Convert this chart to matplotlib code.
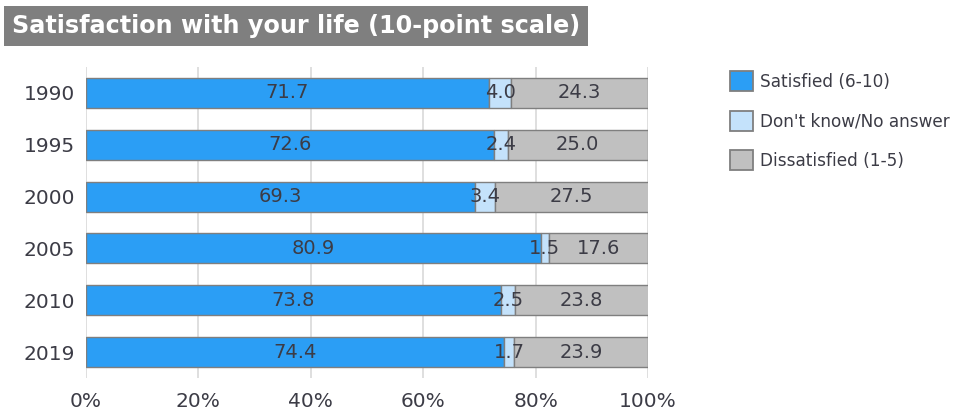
import matplotlib.pyplot as plt
from matplotlib.patches import Patch
import numpy as np

years = ['1990', '1995', '2000', '2005', '2010', '2019']
satisfied = [71.7, 72.6, 69.3, 80.9, 73.8, 74.4]
dont_know = [4.0, 2.4, 3.4, 1.5, 2.5, 1.7]
dissatisfied = [24.3, 25.0, 27.5, 17.6, 23.8, 23.9]
series_names = ['Satisfied (6-10)', "Don't know/No answer", 'Dissatisfied (1-5)']
colors = ['#2b9ef5', '#c4e2fb', '#c0c0c0']
edge = '#7f7f7f'
txt = '#3c3c46'

fig = plt.figure(figsize=(9.62, 4.2), dpi=100)
ax = fig.add_axes([86/962, 1-378/420, (648-86)/962, 311/420])

y = np.arange(len(years))
left = np.zeros(len(years))
for vals, c in zip([satisfied, dont_know, dissatisfied], colors):
    vals = np.array(vals)
    ax.barh(y, vals, left=left, height=0.58, color=c, edgecolor=edge, linewidth=1, zorder=3)
    for yi, l, v in zip(y, left, vals):
        ax.text(l + v/2, yi, f'{v:.1f}', ha='center', va='center', fontsize=14, color=txt, zorder=4)
    left += vals

ax.set_xlim(0, 100)
ax.set_ylim(len(years) - 0.5, -0.5)
ax.set_yticks(y)
ax.set_yticklabels(years, fontsize=14.5, color=txt)
ax.set_xticks([0, 20, 40, 60, 80, 100])
ax.set_xticklabels([f'{v}%' for v in range(0, 101, 20)], fontsize=14.5, color=txt)
ax.tick_params(length=0)
ax.tick_params(axis='x', pad=10)
ax.tick_params(axis='y', pad=8)
ax.grid(axis='x', color='#d9d9d9', linewidth=1.2, zorder=0)
for s in ax.spines.values():
    s.set_visible(False)

# title box
fig.text(12/962, 1-26/420, 'Satisfaction with your life (10-point scale)', fontsize=17.2,
         fontweight='bold', color='white', va='center', ha='left',
         bbox=dict(boxstyle='square,pad=0.35', facecolor='#7f7f7f', edgecolor='none'))

handles = [Patch(facecolor=c, edgecolor=edge, linewidth=1.3) for c in colors]
fig.legend(handles, series_names, loc='upper left', bbox_to_anchor=(730/962, 1-71/420),
           frameon=False, fontsize=12.2, handlelength=1.35, handleheight=1.45,
           handletextpad=0.45, labelspacing=1.15, labelcolor=txt,
           borderpad=0, borderaxespad=0)

fig.savefig('out.png', dpi=100)
